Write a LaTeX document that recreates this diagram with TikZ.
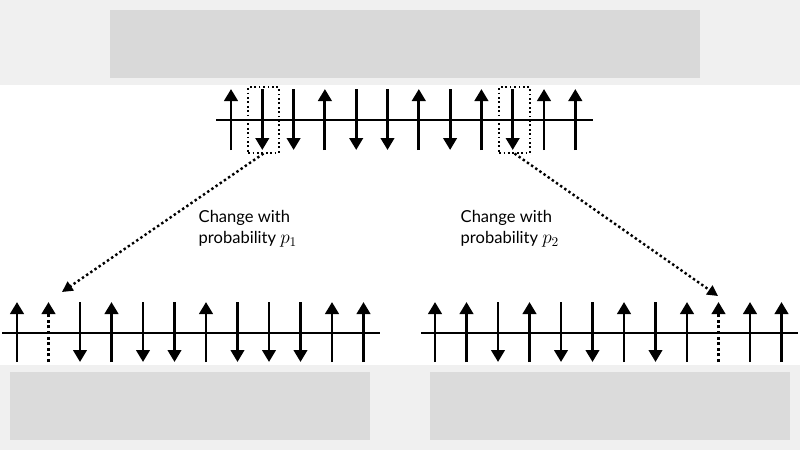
\documentclass[tikz,border=0pt]{standalone}
\usepackage{fontspec}
\setmainfont{Lato}
\usetikzlibrary{arrows.meta}
\begin{document}
\begin{tikzpicture}[x=0.75pt,y=-0.75pt,
  spin/.style={line width=2.2pt,-{Triangle[length=9pt,width=10pt]}},
  dspin/.style={line width=2.2pt,dotted,-{Triangle[length=9pt,width=10pt]}},
  axis/.style={line width=2.2pt},
  selbox/.style={draw,line width=1.3pt,dotted,minimum width=23pt,minimum height=49pt,inner sep=0pt},
  link/.style={line width=1.8pt,dotted,-{Triangle[length=8pt,width=8pt]}},
  lbl/.style={align=left,font=\fontsize{12.4}{16}\selectfont}]
\useasboundingbox (0,0) rectangle (800,450);
\fill[gray!12] (0,0) rectangle (800,85);
\fill[gray!30] (110,10) rectangle (700,78);
\fill[gray!12] (0,365) rectangle (800,450);
\fill[gray!28] (10,372) rectangle (370,440);
\fill[gray!28] (430,372) rectangle (790,440);
% top chain
\coordinate (tl) at (216,120); \coordinate (tr) at (593,120);
\draw[axis] (tl) -- (tr);
\foreach \i/\s in {0/u,1/d,2/d,3/u,4/d,5/d,6/u,7/d,8/u,9/d,10/u,11/u}{
  \pgfmathsetmacro\xx{231+\i*31.3}
  \coordinate (ta\i) at (\xx,89); \coordinate (tb\i) at (\xx,150);
  \if u\s \draw[spin] (tb\i) -- (ta\i); \else \draw[spin] (ta\i) -- (tb\i); \fi
}
\node[selbox] (b1) at (263.5,120) {};
\node[selbox] (b2) at (514.5,120) {};
% bottom left
\coordinate (ll) at (2,333); \coordinate (lr) at (380,333);
\draw[axis] (ll) -- (lr);
\foreach \i/\s in {0/u,1/o,2/d,3/u,4/d,5/d,6/u,7/d,8/d,9/d,10/u,11/u}{
  \pgfmathsetmacro\xx{17+\i*31.5}
  \coordinate (la\i) at (\xx,302); \coordinate (lb\i) at (\xx,362);
  \if u\s \draw[spin] (lb\i) -- (la\i); \else\if d\s \draw[spin] (la\i) -- (lb\i); \else \draw[dspin] (lb\i) -- (la\i); \fi\fi
}
% bottom right
\coordinate (rl) at (421,333); \coordinate (rr) at (798,333);
\draw[axis] (rl) -- (rr);
\foreach \i/\s in {0/u,1/u,2/d,3/u,4/d,5/d,6/u,7/d,8/u,9/o,10/u,11/u}{
  \pgfmathsetmacro\xx{435+\i*31.5}
  \coordinate (ra\i) at (\xx,302); \coordinate (rb\i) at (\xx,362);
  \if u\s \draw[spin] (rb\i) -- (ra\i); \else\if d\s \draw[spin] (ra\i) -- (rb\i); \else \draw[dspin] (rb\i) -- (ra\i); \fi\fi
}
\draw[link] (b1.south) -- (62,292);
\draw[link] (b2.south) -- (718,296);
\node[lbl,anchor=west] (t1) at (194,229) {Change with\\probability {\Large$p_1$}};
\node[lbl,anchor=west] (t2) at (456,229) {Change with\\probability {\Large$p_2$}};
\end{tikzpicture}
\end{document}
